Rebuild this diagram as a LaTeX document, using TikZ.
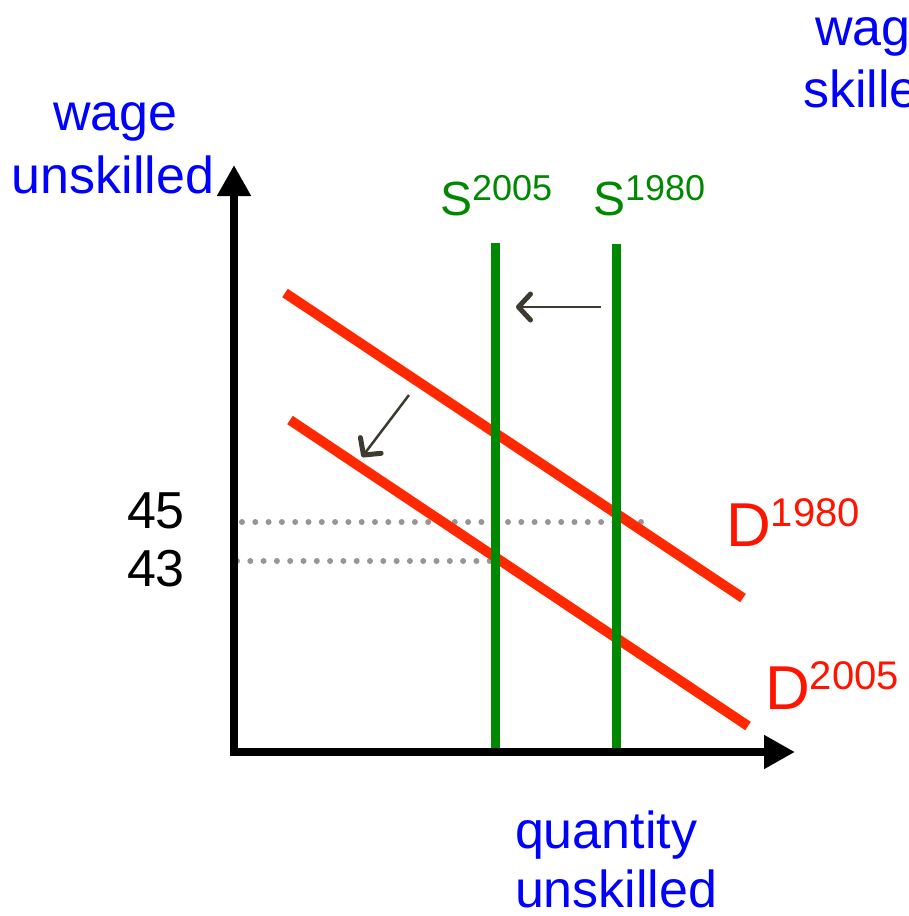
\documentclass[tikz,border=0pt]{standalone}
\usepackage{fontspec}
\setmainfont{Liberation Sans}
\usetikzlibrary{arrows.meta}
\definecolor{lblue}{RGB}{0,0,255}
\definecolor{sgreen}{RGB}{0,136,0}
\definecolor{dred}{RGB}{255,40,0}
\definecolor{dlab}{RGB}{255,20,0}
\definecolor{arrowdark}{RGB}{61,58,48}
\definecolor{dotgray}{RGB}{150,150,150}
\begin{document}
\begin{tikzpicture}[x=1pt,y=-1pt,
  txt/.style={inner sep=0pt,outer sep=0pt,anchor=base west,font=\fontsize{52}{60}\selectfont},
  axis/.style={line width=8pt,-{Triangle[width=32pt,length=31pt]}},
  supply/.style={sgreen,line width=9pt},
  demand/.style={dred,line width=10pt},
  shiftarrow/.style={arrowdark,line width=2.5pt,-{Straight Barb[length=12pt,width=26pt,line width=5pt,round]}},
  dotline/.style={dotgray,line width=6pt,line cap=round,dash pattern=on 0pt off 13.3pt}]
\useasboundingbox (0,0) rectangle (908,916);
\clip (0,0) rectangle (908,916);
% coordinates
\coordinate (O) at (234,752);
\coordinate (Ytop) at (234,165);
\coordinate (Oa) at (230,752);
\coordinate (Xend) at (795,752);
\coordinate (s5t) at (495,243);
\coordinate (s5b) at (495,752);
\coordinate (s8t) at (616,244);
\coordinate (s8b) at (616,752);
\coordinate (d8a) at (285,293);
\coordinate (d8b) at (743,598);
\coordinate (d5a) at (290,420);
\coordinate (d5b) at (748,726);
\coordinate (h1) at (601,307);
\coordinate (h2) at (516,307);
\coordinate (g1) at (409,395);
\coordinate (g2) at (362,457);
\coordinate (p45a) at (242,522);
\coordinate (p45b) at (642,522);
\coordinate (p43a) at (237,561);
\coordinate (p43b) at (490,561);
% dotted guides
\draw[dotline] (p45a) -- (p45b);
\draw[dotline] (p43a) -- (p43b);
% demand
\draw[demand] (d8a) -- (d8b);
\draw[demand] (d5a) -- (d5b);
% supply
\draw[supply] (s5t) -- (s5b);
\draw[supply] (s8t) -- (s8b);
% axes
\draw[axis] (O) -- (Ytop);
\draw[axis] (Oa) -- (Xend);
% shift arrows
\draw[shiftarrow] (h1) -- (h2);
\draw[shiftarrow] (g1) -- (g2);
% labels
\node[txt,lblue] (wu) at (53,130) {wage};
\node[txt,lblue] (uu) at (12,193) {unskilled};
\node[txt,lblue] (qu) at (515,848) {quantity};
\node[txt,lblue] (uq) at (515,907) {unskilled};
\node[txt,lblue] (ws) at (815,45) {wage};
\node[txt,lblue] (ss) at (803,107) {skilled};
\node[txt] (n45) at (127,528) {45};
\node[txt] (n43) at (127,586) {43};
\node[txt,sgreen,font=\fontsize{48}{56}\selectfont] (S5) at (440,215) {S\raisebox{15pt}{\fontsize{36}{40}\selectfont 2005}};
\node[txt,sgreen,font=\fontsize{48}{56}\selectfont] (S8) at (593,215) {S\raisebox{15pt}{\fontsize{36}{40}\selectfont 1980}};
\node[txt,dlab,font=\fontsize{62}{70}\selectfont] (D8) at (726,546) {D\raisebox{20pt}{\fontsize{40}{44}\selectfont 1980}};
\node[txt,dlab,font=\fontsize{62}{70}\selectfont] (D5) at (765,709) {D\raisebox{20pt}{\fontsize{40}{44}\selectfont 2005}};
\end{tikzpicture}
\end{document}
